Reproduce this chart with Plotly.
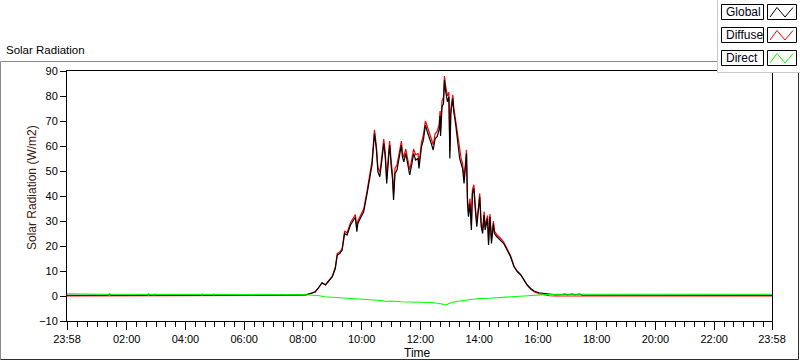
import plotly.graph_objects as go

# ---------------- data ----------------
START = "2024-01-01 23:58"
END = "2024-01-02 23:58"
DAY = "2024-01-02"

global_times = ["01:20", "01:25", "01:28", "02:40", "02:45", "02:48", "02:58", "03:00",
                "04:30", "04:34", "04:37", "04:55", "04:58", "05:01",
                "07:55", "08:05", "08:15", "08:25", "08:31", "08:39", "08:46", "08:52",
                "09:00", "09:06", "09:10", "09:15", "09:20", "09:25", "09:30", "09:37",
                "09:44", "09:47", "09:50", "09:52", "09:57", "10:04", "10:11", "10:18",
                "10:21", "10:26", "10:30", "10:33", "10:37", "10:42", "10:45", "10:48",
                "10:51", "10:55", "10:57", "11:00", "11:03", "11:05", "11:08", "11:12",
                "11:17", "11:21", "11:23", "11:26", "11:30", "11:34", "11:38", "11:42",
                "11:46", "11:50", "11:55", "11:57", "12:02", "12:06", "12:10", "12:14",
                "12:18", "12:22", "12:26", "12:30", "12:34", "12:38", "12:40", "12:41",
                "12:44", "12:47", "12:49", "12:51", "12:55", "12:58", "13:00", "13:02",
                "13:06", "13:08", "13:12", "13:15", "13:18", "13:20", "13:23", "13:26",
                "13:29", "13:32", "13:34", "13:36", "13:38", "13:41", "13:44", "13:46",
                "13:49", "13:52", "13:55", "13:57", "14:01", "14:04", "14:07", "14:10",
                "14:12", "14:17", "14:19", "14:22", "14:25", "14:29", "14:31", "14:36",
                "14:40", "14:44", "14:50", "14:57", "15:04", "15:11", "15:18", "15:25",
                "15:31", "15:38", "15:45", "15:52", "16:02", "16:12", "16:23", "16:35",
                "16:50", "16:55", "17:00", "17:10", "17:15", "17:25", "17:30"]
global_values = [0.3, 0.7, 0.3, 0.3, 0.7, 0.3, 0.6, 0.3,
                 0.3, 0.7, 0.3, 0.3, 0.7, 0.3,
                 0.4, 0.5, 1.0, 1.7, 3.2, 5.3, 4.4, 5.7,
                 7.7, 11.0, 16.4, 17.0, 18.4, 25.0, 24.4, 28.4,
                 31.0, 31.5, 25.7, 29.0, 31.0, 33.7, 41.0, 50.0,
                 52.4, 65.0, 58.4, 49.7, 47.7, 55.7, 61.0, 55.7,
                 45.0, 55.7, 60.4, 52.4, 46.4, 38.4, 49.0, 50.4,
                 55.7, 60.4, 55.7, 53.7, 57.0, 52.4, 48.4, 52.4,
                 57.0, 54.4, 55.0, 51.0, 59.7, 62.4, 68.4, 65.7,
                 63.7, 61.0, 58.4, 63.0, 63.7, 66.4, 72.0, 64.0,
                 75.7, 77.0, 86.4, 82.4, 77.7, 79.7, 55.0, 73.0,
                 79.0, 73.7, 68.4, 63.7, 59.7, 55.0, 53.0, 51.0,
                 45.0, 51.7, 57.0, 37.0, 31.7, 37.0, 26.4, 41.0,
                 43.0, 34.4, 27.7, 31.7, 39.7, 27.7, 25.0, 32.4,
                 26.4, 31.0, 20.4, 31.7, 21.0, 29.0, 25.0, 23.7,
                 23.0, 22.4, 21.0, 18.4, 15.7, 11.7, 9.7, 8.4,
                 6.4, 4.4, 3.0, 2.0, 1.3, 1.0, 0.8, 0.5,
                 0.6, 0.8, 0.5, 0.8, 0.5, 0.8, 0.4]
global_start, global_end = 0.3, 0.3

diffuse_times = ["07:55", "08:05", "08:15", "08:25", "08:31", "08:39", "08:46", "08:52",
                 "09:00", "09:06", "09:10", "09:15", "09:20", "09:25", "09:30", "09:37",
                 "09:44", "09:47", "09:50", "09:52", "09:57", "10:04", "10:11", "10:18",
                 "10:21", "10:26", "10:30", "10:33", "10:37", "10:42", "10:45", "10:48",
                 "10:51", "10:55", "10:57", "11:00", "11:03", "11:05", "11:08", "11:12",
                 "11:17", "11:21", "11:23", "11:26", "11:30", "11:34", "11:38", "11:42",
                 "11:46", "11:50", "11:55", "11:57", "12:02", "12:06", "12:10", "12:14",
                 "12:18", "12:22", "12:26", "12:30", "12:34", "12:38", "12:40", "12:41",
                 "12:44", "12:47", "12:49", "12:51", "12:55", "12:58", "13:00", "13:02",
                 "13:06", "13:08", "13:12", "13:15", "13:18", "13:20", "13:23", "13:26",
                 "13:29", "13:32", "13:34", "13:36", "13:38", "13:41", "13:44", "13:46",
                 "13:49", "13:52", "13:55", "13:57", "14:01", "14:04", "14:07", "14:10",
                 "14:12", "14:17", "14:19", "14:22", "14:25", "14:29", "14:31", "14:36",
                 "14:40", "14:44", "14:50", "14:57", "15:04", "15:11", "15:18", "15:25",
                 "15:31", "15:38", "15:45", "15:52", "16:02", "16:12", "16:23", "16:35"]
diffuse_values = [0.0, 0.3, 0.9, 1.6, 3.0, 5.2, 4.5, 5.8,
                  7.9, 11.5, 17.0, 17.6, 19.0, 26.0, 25.2, 29.3,
                  32.0, 32.6, 27.0, 30.0, 32.0, 34.8, 42.2, 51.5,
                  54.0, 66.5, 60.0, 51.5, 49.5, 57.5, 62.8, 57.5,
                  47.0, 57.5, 62.0, 54.5, 48.5, 41.0, 51.0, 52.5,
                  57.8, 62.0, 57.5, 55.5, 58.8, 54.5, 50.5, 54.5,
                  58.8, 56.5, 57.0, 53.0, 61.5, 64.5, 70.0, 67.8,
                  65.5, 63.0, 60.5, 65.0, 65.8, 68.5, 74.0, 66.5,
                  78.0, 79.5, 88.0, 84.5, 80.0, 81.5, 58.0, 75.0,
                  80.5, 75.5, 70.0, 65.5, 61.5, 57.0, 55.0, 53.0,
                  47.0, 53.5, 58.5, 39.0, 33.5, 39.0, 28.5, 42.5,
                  44.5, 36.0, 29.5, 33.0, 41.0, 29.5, 26.5, 33.8,
                  28.0, 32.2, 22.0, 32.8, 22.5, 30.0, 26.0, 24.5,
                  23.8, 23.0, 21.6, 18.9, 16.1, 12.0, 9.9, 8.5,
                  6.4, 4.3, 2.8, 1.7, 0.9, 0.4, 0.1, 0.0]
diffuse_start, diffuse_end = 0.0, 0.0

direct_times = ["01:00", "01:05", "08:05", "08:30", "08:45", "09:00", "09:20", "09:40",
                "10:00", "10:20", "10:40", "10:50", "11:00", "11:20", "11:40", "12:00",
                "12:20", "12:40", "12:50", "12:55", "13:05", "13:20", "13:40", "14:00",
                "14:20", "14:40", "15:00", "15:20", "15:40", "16:00", "16:20", "16:40"]
direct_values = [0.9, 0.7, 0.5, 0.2, -0.3, -0.5, -0.8, -0.9,
                 -1.2, -1.6, -1.8, -2.2, -2.0, -2.3, -2.4, -2.3,
                 -2.6, -3.0, -3.6, -3.3, -2.5, -2.0, -1.4, -1.0,
                 -0.9, -0.6, -0.4, -0.1, 0.1, 0.4, 0.6, 0.7]
direct_start, direct_end = 0.9, 0.7

tick_times = ["02:00", "04:00", "06:00", "08:00", "10:00", "12:00",
              "14:00", "16:00", "18:00", "20:00", "22:00"]
tick_labels = ["23:58", "02:00", "04:00", "06:00", "08:00", "10:00", "12:00",
               "14:00", "16:00", "18:00", "20:00", "22:00", "23:58"]
y_ticks = [-10, 0, 10, 20, 30, 40, 50, 60, 70, 80, 90]

series_names = ["Global", "Diffuse", "Direct"]
series_colors = ["#000000", "#ff0000", "#00ff00"]


def xs(times):
    return [DAY + " " + t for t in times]


fig = go.Figure()
fig.add_trace(go.Scatter(x=[START] + xs(diffuse_times) + [END],
                         y=[diffuse_start] + diffuse_values + [diffuse_end],
                         mode="lines", line=dict(color=series_colors[1], width=1.2),
                         name=series_names[1], showlegend=False))
fig.add_trace(go.Scatter(x=[START] + xs(global_times) + [END],
                         y=[global_start] + global_values + [global_end],
                         mode="lines", line=dict(color=series_colors[0], width=1.2),
                         name=series_names[0], showlegend=False))
fig.add_trace(go.Scatter(x=[START] + xs(direct_times) + [END],
                         y=[direct_start] + direct_values + [direct_end],
                         mode="lines", line=dict(color=series_colors[2], width=1.1),
                         name=series_names[2], showlegend=False))

# ---------------- layout helpers (pixel -> paper) ----------------
L, R, T, B = 67, 772, 71, 321
W, H = 800, 361


def px(X):
    return (X - L) / (R - L)


def py(Y):
    return (B - Y) / (B - T)


FONT = "Liberation Sans"
shapes = []
annotations = []

# outer frame
shapes.append(dict(type="line", xref="paper", yref="paper", x0=px(0.5), x1=px(717), y0=py(61.5), y1=py(61.5),
                   line=dict(color="#8a8a8a", width=1)))
shapes.append(dict(type="line", xref="paper", yref="paper", x0=px(0.5), x1=px(0.5), y0=py(61.5), y1=py(359.5),
                   line=dict(color="#8a8a8a", width=1)))
shapes.append(dict(type="line", xref="paper", yref="paper", x0=px(0.5), x1=px(798.5), y0=py(359.5), y1=py(359.5),
                   line=dict(color="#303030", width=1)))
shapes.append(dict(type="line", xref="paper", yref="paper", x0=px(798.5), x1=px(798.5), y0=py(72), y1=py(359.5),
                   line=dict(color="#303030", width=1)))

# legend panel
shapes.append(dict(type="rect", xref="paper", yref="paper", x0=px(717.5), x1=px(801), y0=py(-1), y1=py(72.5),
                   fillcolor="#ffffff", line=dict(color="#c8c8c8", width=1)))
box_tops = [4.5, 27.5, 50.5]
for i, name in enumerate(series_names):
    t = box_tops[i]
    b = t + 15
    shapes.append(dict(type="rect", xref="paper", yref="paper", x0=px(721.5), x1=px(763.5), y0=py(b), y1=py(t),
                       fillcolor="#ffffff", line=dict(color="#000000", width=1)))
    shapes.append(dict(type="rect", xref="paper", yref="paper", x0=px(767.5), x1=px(796.5), y0=py(b), y1=py(t),
                       fillcolor="#ffffff", line=dict(color="#000000", width=1)))
    pts = [(770, b - 2.5), (777, t + 3), (785, b - 2.5), (793, t + 3)]
    path = "M " + " L ".join(f"{px(a):.5f},{py(c):.5f}" for a, c in pts)
    shapes.append(dict(type="path", xref="paper", yref="paper", path=path,
                       line=dict(color=series_colors[i], width=1)))
    annotations.append(dict(x=px(724), y=py((t + b) / 2), xref="paper", yref="paper", text=name,
                            showarrow=False, xanchor="left", yanchor="middle",
                            font=dict(family=FONT, size=12, color="#000010")))

# titles
annotations.append(dict(x=px(4), y=py(50), xref="paper", yref="paper", text="Solar Radiation",
                        showarrow=False, xanchor="left", yanchor="middle",
                        font=dict(family=FONT, size=11.5, color="#000000")))
annotations.append(dict(x=px(32), y=py(188), xref="paper", yref="paper", text="Solar Radiation (W/m2)",
                        showarrow=False, xanchor="center", yanchor="middle", textangle=-90,
                        font=dict(family=FONT, size=12, color="#3a2010")))
annotations.append(dict(x=px(417), y=py(353), xref="paper", yref="paper", text="Time",
                        showarrow=False, xanchor="center", yanchor="middle",
                        font=dict(family=FONT, size=12, color="#000000")))

fig.update_layout(
    width=W, height=H,
    margin=dict(l=L, r=W - R, t=T, b=H - B, pad=0),
    paper_bgcolor="#ffffff", plot_bgcolor="#ffffff",
    showlegend=False,
    shapes=shapes, annotations=annotations,
    xaxis=dict(
        type="date", range=[START, END],
        tickmode="array", tickvals=[START] + xs(tick_times) + [END], ticktext=tick_labels,
        ticks="outside", ticklen=8, tickwidth=1, tickcolor="#000000",
        minor=dict(ticks="outside", ticklen=5, tickwidth=1, tickcolor="#000000",
                   dtick=20 * 60 * 1000, tick0=DAY + " 00:00", showgrid=False),
        showgrid=False, zeroline=False, showline=True, linecolor="#000000", linewidth=1, mirror=True,
        tickfont=dict(family=FONT, size=11, color="#000000"),
    ),
    yaxis=dict(
        range=[-10, 90], tickmode="array", tickvals=y_ticks,
        ticks="outside", ticklen=6, tickwidth=1, tickcolor="#000000",
        showgrid=False, zeroline=False, showline=True, linecolor="#000000", linewidth=1, mirror=True,
        tickfont=dict(family=FONT, size=11, color="#000000"),
    ),
)

fig.write_html("out.html", config={"displayModeBar": False},
               post_script="document.body.style.margin='0';document.body.style.overflow='hidden';")
